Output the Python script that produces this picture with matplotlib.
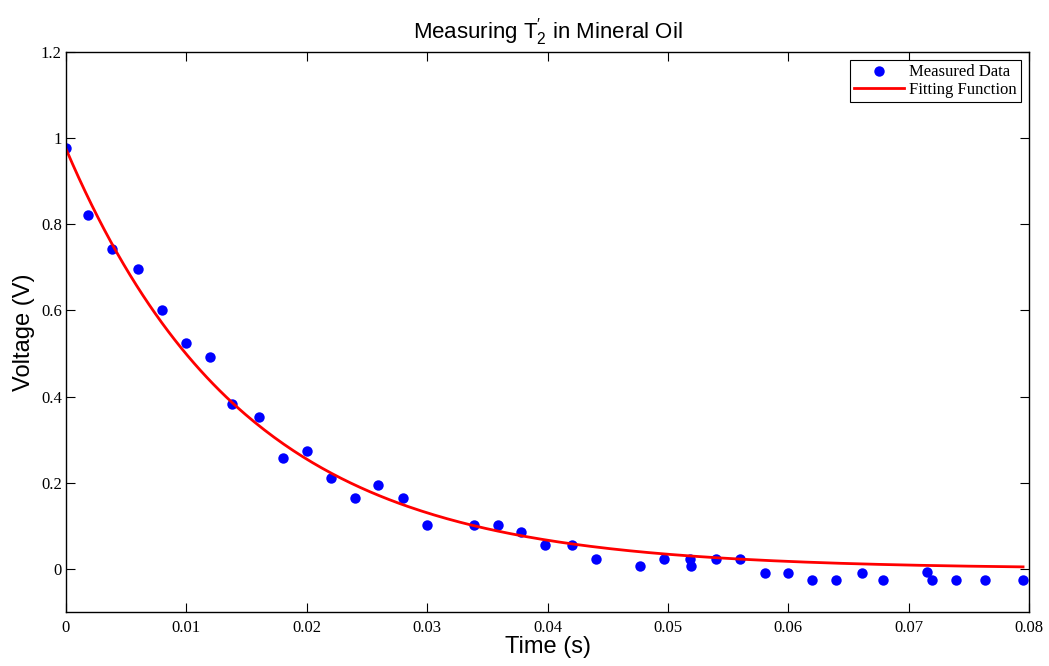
import numpy as np
import matplotlib
matplotlib.use("Agg")
import matplotlib.pyplot as plt

# measured echo amplitudes
time_s = [0.0, 0.0018, 0.0038, 0.0060, 0.0080, 0.0100, 0.0120, 0.0138, 0.0160,
          0.0180, 0.0200, 0.0220, 0.0240, 0.0259, 0.0280, 0.0300, 0.0339, 0.0359,
          0.0378, 0.0398, 0.0420, 0.0440, 0.0477, 0.0497, 0.0518, 0.0519, 0.0540,
          0.0560, 0.0581, 0.0600, 0.0620, 0.0640, 0.0661, 0.0679, 0.0715, 0.0719,
          0.0739, 0.0763, 0.0795]
voltage_v = [0.977, 0.821, 0.742, 0.696, 0.601, 0.524, 0.492, 0.383, 0.353,
             0.258, 0.274, 0.211, 0.165, 0.195, 0.165, 0.102, 0.102, 0.102,
             0.086, 0.056, 0.056, 0.023, 0.007, 0.023, 0.023, 0.007, 0.023,
             0.023, -0.009, -0.009, -0.025, -0.025, -0.009, -0.025, -0.008, -0.025,
             -0.025, -0.025, -0.025]

# exponential fit parameters V(t) = A exp(-t / T2')
fit_amp = 0.975
fit_t2 = 0.0149
fit_t = np.linspace(0, 0.0795, 300)

plt.rcParams['mathtext.fontset'] = 'custom'
plt.rcParams['mathtext.rm'] = 'Liberation Sans'
plt.rcParams['mathtext.it'] = 'Liberation Sans'

fig = plt.figure(figsize=(10.49, 6.66), dpi=100)
ax = fig.add_axes([0.0629, 0.0811, 0.9181, 0.8409])

ax.plot(time_s, voltage_v, 'o', color='#0000ff', markersize=7.5, markeredgewidth=0,
        label='Measured Data')
ax.plot(fit_t, fit_amp * np.exp(-fit_t / fit_t2), '-', color='#ff0000', linewidth=2,
        label='Fitting Function')

ax.set_xlim(0, 0.08)
ax.set_ylim(-0.1, 1.2)
ax.set_xticks(np.arange(0, 0.081, 0.01))
ax.set_xticklabels(['0', '0.01', '0.02', '0.03', '0.04', '0.05', '0.06', '0.07', '0.08'])
ax.set_yticks([0, 0.2, 0.4, 0.6, 0.8, 1.0, 1.2])
ax.set_yticklabels(['0', '0.2', '0.4', '0.6', '0.8', '1', '1.2'])
ax.tick_params(direction='in', length=6.5, width=0.8, top=True, right=True,
               labelsize=12)
ax.tick_params(axis='x', pad=6)
ax.tick_params(axis='y', pad=3)
for lbl in ax.get_xticklabels() + ax.get_yticklabels():
    lbl.set_fontfamily('Liberation Serif')
for sp in ax.spines.values():
    sp.set_linewidth(1.0)

ax.set_xlabel('Time (s)', fontsize=17, family='Liberation Sans', labelpad=0)
ax.set_ylabel('Voltage (V)', fontsize=17, family='Liberation Sans', labelpad=4)
ax.set_title(r"Measuring T$_2^{\prime}$ in Mineral Oil", fontsize=16,
             family='Liberation Sans', pad=10)

leg = ax.legend(loc='upper right', prop={'family': 'Liberation Serif', 'size': 12},
                fancybox=False, framealpha=1, edgecolor='black', handlelength=3,
                borderaxespad=0.5, borderpad=0.25, labelspacing=0.1, handletextpad=0.3,
                numpoints=1)
leg.get_frame().set_linewidth(0.8)

fig.savefig('out.png', dpi=100)
